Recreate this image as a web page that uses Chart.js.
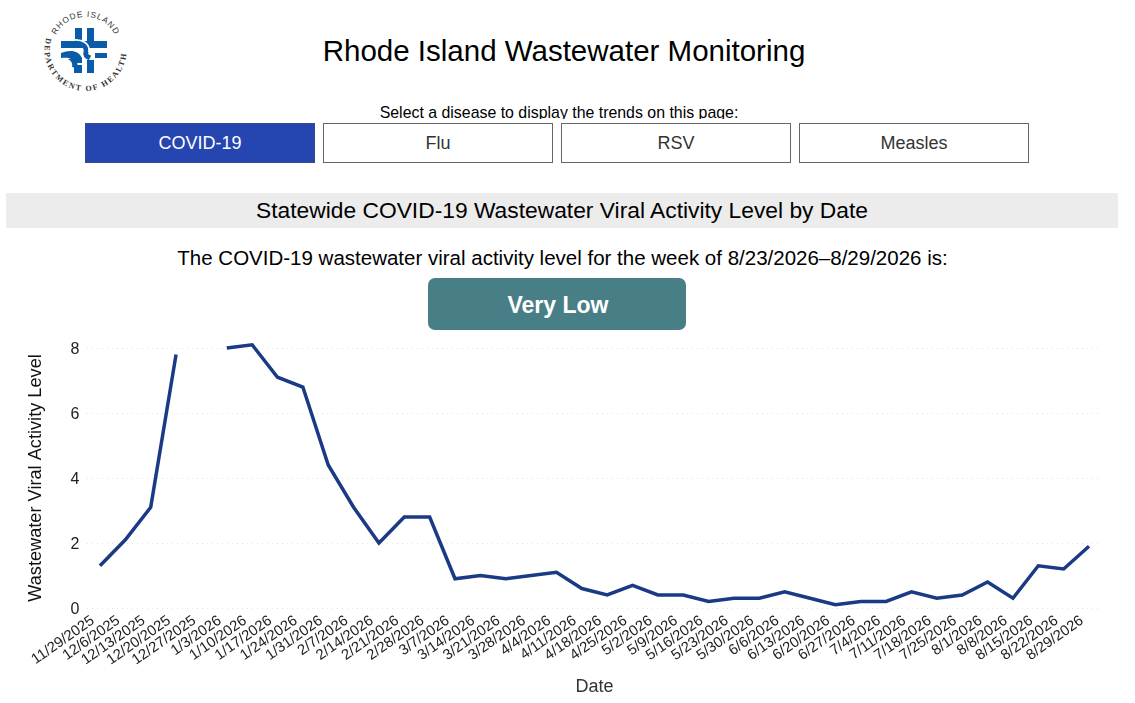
<!DOCTYPE html>
<html>
<head>
<meta charset="utf-8">
<title>Rhode Island Wastewater Monitoring</title>
<script src="https://cdn.jsdelivr.net/npm/chart.js@4"></script>
<style>
  html, body { margin: 0; padding: 0; background: #fff; font-family: "Liberation Sans", Arial, sans-serif; color: #000; }
  body { position: relative; width: 1135px; height: 703px; overflow: hidden; }
  .abs { position: absolute; }
  #title { left: 0; top: 33px; width: 1128px; text-align: center; font-size: 29.5px; line-height: 36px; }
  #select-wrap { left: 0; top: 103px; width: 1118px; height: 16px; overflow: hidden; text-align: center; font-size: 15.9px; line-height: 20px; }
  .btn { top: 123px; width: 230px; height: 40px; box-sizing: border-box; border: 1px solid #666; background: #fff; color: #333;
         font-size: 18px; line-height: 38px; text-align: center; }
  .btn.active { background: #2546b0; border-color: #3a4a80; color: #fff; }
  #band { left: 6px; top: 193px; width: 1112px; height: 35px; background: #ececec; text-align: center; font-size: 22.8px; line-height: 34px; }
  #level-text { left: 0; top: 245px; width: 1125px; text-align: center; font-size: 20.5px; line-height: 26px; }
  #level { left: 429px; top: 278px; width: 258px; height: 52px; color: #fff;
           font-size: 23px; font-weight: bold; line-height: 54px; text-align: center; }
  #level-bg { left: 428px; top: 278px; width: 258px; height: 52px; border-radius: 7px; background: #487f87; }
  #chart-wrap { left: 0; top: 330px; width: 1135px; height: 373px; }
</style>
</head>
<body>
<svg class="abs" style="left:35px;top:0" width="100" height="100" viewBox="35 0 100 100">
  <defs>
    <path id="arc-top" d="M 56 35 A 33 33 0 0 1 115 35"/>
    <path id="arc-bottom" d="M 46.3 38 A 41 41 0 1 0 124.7 38"/>
  </defs>
  <text font-family="Liberation Sans" font-size="8.3" fill="#333" letter-spacing="0.9"><textPath href="#arc-top">RHODE ISLAND</textPath></text>
  <text font-family="Liberation Serif" font-size="8" font-weight="bold" fill="#333" letter-spacing="1.7"><textPath href="#arc-bottom">DEPARTMENT OF HEALTH</textPath></text>
  <g fill="#0a5ba8">
    <rect x="75" y="28" width="7" height="15"/>
    <rect x="87" y="28" width="7" height="16"/>
    <rect x="61" y="41" width="46" height="7"/>
    <rect x="95" y="53" width="12" height="5"/>
    <rect x="74" y="65" width="8" height="8"/>
    <rect x="87" y="60" width="7" height="13"/>
    <path d="M61 53 C71 49 79 51 82 58 L82 63 L76 63 C73 58 68 57 61 58 Z"/>
    <path d="M68 59 L74 58 C78 62 78 65 77 68 L72 67 C73 63 71 61 68 59 Z"/>
  </g>
  <g fill="none" stroke="#0a5ba8" stroke-width="5">
    <path d="M76 43 C84 44 87 47 86 52 C85 55 86 56 90 58"/>
  </g>
  <g fill="none" stroke="#fff" stroke-width="1.6">
    <path d="M73 40 C82 39 90 43 89 52"/>
  </g>
</svg>
<div class="abs" id="title">Rhode Island Wastewater Monitoring</div>
<div class="abs" id="select-wrap">Select a disease to display the trends on this page:</div>
<div class="abs btn active" style="left:85px">COVID-19</div>
<div class="abs btn" style="left:323px">Flu</div>
<div class="abs btn" style="left:561px">RSV</div>
<div class="abs btn" style="left:799px">Measles</div>
<div class="abs" id="band">Statewide COVID-19 Wastewater Viral Activity Level by Date</div>
<div class="abs" id="level-text">The COVID-19 wastewater viral activity level for the week of 8/23/2026–8/29/2026 is:</div>
<div class="abs" id="level-bg"></div>
<div class="abs" id="level">Very Low</div>
<div class="abs" id="chart-wrap"><canvas id="chart-ww" width="1135" height="373"></canvas></div>
<script>
const weekLabels = [
  '11/29/2025','12/6/2025','12/13/2025','12/20/2025','12/27/2025','1/3/2026','1/10/2026','1/17/2026',
  '1/24/2026','1/31/2026','2/7/2026','2/14/2026','2/21/2026','2/28/2026','3/7/2026','3/14/2026',
  '3/21/2026','3/28/2026','4/4/2026','4/11/2026','4/18/2026','4/25/2026','5/2/2026','5/9/2026',
  '5/16/2026','5/23/2026','5/30/2026','6/6/2026','6/13/2026','6/20/2026','6/27/2026','7/4/2026',
  '7/11/2026','7/18/2026','7/25/2026','8/1/2026','8/8/2026','8/15/2026','8/22/2026','8/29/2026',
];
const activityLevels = [
  1.3, 2.1, 3.1, 7.8, null, 8.0, 8.1, 7.1,
  6.8, 4.4, 3.1, 2.0, 2.8, 2.8, 0.9, 1.0,
  0.9, 1.0, 1.1, 0.6, 0.4, 0.7, 0.4, 0.4,
  0.2, 0.3, 0.3, 0.5, 0.3, 0.1, 0.2, 0.2,
  0.5, 0.3, 0.4, 0.8, 0.3, 1.3, 1.2, 1.9,
];
const yTicks = [0, 2, 4, 6, 8];

const fontFamily = '"Liberation Sans", Arial, sans-serif';

new Chart(document.getElementById('chart-ww'), {
  type: 'line',
  data: {
    labels: weekLabels,
    datasets: [{
      label: 'Wastewater Viral Activity Level',
      data: activityLevels,
      borderColor: '#1a3a85',
      borderWidth: 3.5,
      pointRadius: 0,
      tension: 0,
      spanGaps: false,
      clip: false,
    }],
  },
  options: {
    responsive: false,
    animation: false,
    layout: { padding: { left: 21, right: 33.3, top: 18, bottom: 5 } },
    plugins: { legend: { display: false }, tooltip: { enabled: false } },
    scales: {
      x: {
        offset: true,
        afterFit: scale => { scale.height = 90; },
        grid: { display: false },
        border: { display: false },
        title: { display: true, text: 'Date', color: '#333', font: { family: fontFamily, size: 18 }, padding: { top: 8, bottom: 0 } },
        ticks: {
          autoSkip: false, minRotation: 35, maxRotation: 35, color: '#222', padding: -4, labelOffset: -7,
          font: { family: fontFamily, size: 14.8 },
        },
      },
      y: {
        min: 0,
        max: 8,
        afterFit: scale => { scale.width = 66.3; },
        afterBuildTicks: axis => { axis.ticks = yTicks.map(v => ({ value: v })); },
        grid: { color: '#e4e4e4', drawTicks: false },
        border: { display: false, dash: [1, 4] },
        title: { display: true, text: 'Wastewater Viral Activity Level', color: '#111', font: { family: fontFamily, size: 18.2 }, padding: { bottom: 8 } },
        ticks: { color: '#222', padding: 8, labelOffset: 2, font: { family: fontFamily, size: 16 } },
      },
    },
  },
});
</script>
</body>
</html>
